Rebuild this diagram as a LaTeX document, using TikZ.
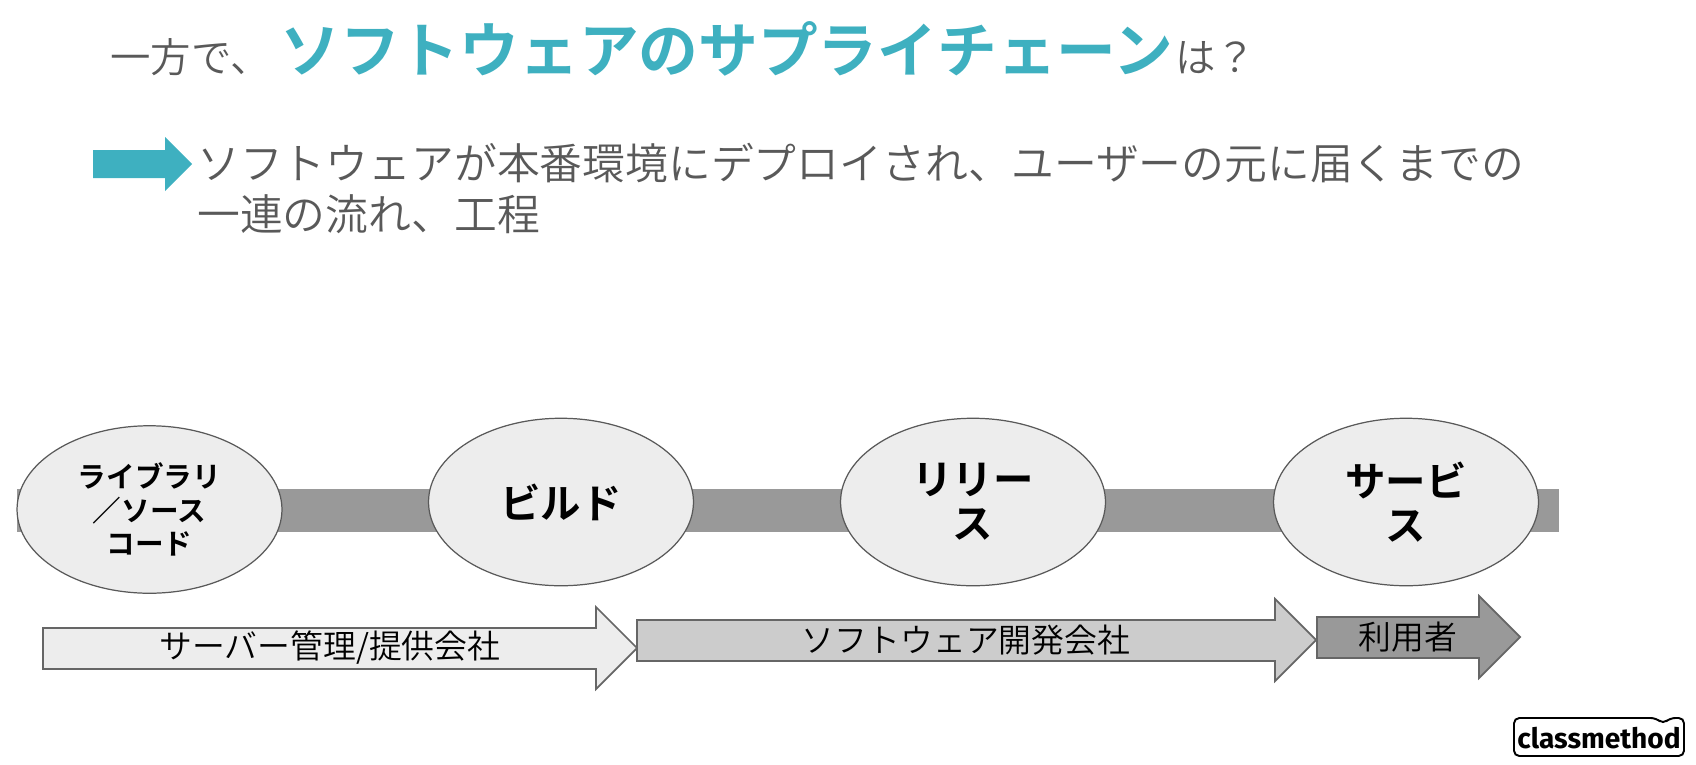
\documentclass[tikz,border=0pt]{standalone}
\usepackage{fontspec}
\usetikzlibrary{shapes.geometric}
\setmainfont{Noto Sans CJK JP DemiLight}[BoldFont=Noto Sans CJK JP Bold]
\newfontfamily\logofont{Fira Sans}
\definecolor{teal1}{HTML}{3EB0C0}
\definecolor{text1}{HTML}{595959}
\definecolor{line1}{HTML}{666666}
\tikzset{
  headtext/.style={anchor=base west,inner sep=0pt,text=text1,font=\fontsize{23}{23}\selectfont},
  bodytext/.style={anchor=base west,inner sep=0pt,text=text1,font=\fontsize{24.37}{24.37}\selectfont},
  stage/.style={ellipse,draw=text1,fill=black!7,line width=0.7pt,inner sep=0pt,
    minimum width=5.3cm,minimum height=3.35cm,align=center,font=\bfseries\fontsize{23}{25}\selectfont},
  actor/.style={draw=line1,line width=1pt},
  actortext/.style={inner sep=0pt,font=\fontsize{18.7}{18.7}\selectfont}
}
\begin{document}
\begin{tikzpicture}[x=0.02cm,y=-0.02cm]
\useasboundingbox (0,0) rectangle (1696,764);

% title
\node[headtext] (one) at (110,72) {一方で、};
\node[headtext,text=teal1,font=\bfseries\fontsize{34}{34}\selectfont] (two) at (280,72) {ソフトウェアのサプライチェーン};
\node[headtext] (three) at (1175,72) {は？};

% definition
\fill[teal1] (93,150) -- (165,150) -- (165,137) -- (192,164) -- (165,191) -- (165,178) -- (93,178) -- cycle;
\node[bodytext] (four) at (197,179) {ソフトウェアが本番環境にデプロイされ、ユーザーの元に届くまでの};
\node[bodytext] (five) at (197,230) {一連の流れ、工程};

% stages
\fill[black!40] (17,489) rectangle (1559,532);
\node[stage,font=\bfseries\fontsize{16.3}{19}\selectfont] (lib) at (149.5,509.5) {ライブラリ\\／ソース\\コード};
\node[stage] (build) at (561,502) {ビルド};
\node[stage] (rel) at (973,502) {リリー\\ス};
\node[stage] (serv) at (1406,502) {サービ\\ス};

% who
\draw[actor,fill=black!7] (43,628) -- (596,628) -- (596,607) -- (637,648) -- (596,689) -- (596,669) -- (43,669) -- cycle;
\node[actortext] (srv) at (330,648) {サーバー管理/提供会社};
\draw[actor,fill=black!20] (637,620) -- (1275,620) -- (1275,599) -- (1316,640) -- (1275,681) -- (1275,661) -- (637,661) -- cycle;
\node[actortext] (dev) at (966,640) {ソフトウェア開発会社};
\draw[actor,fill=black!40] (1317,617) -- (1479,617) -- (1479,596) -- (1520,637) -- (1479,678) -- (1479,658) -- (1317,658) -- cycle;
\node[actortext] (user) at (1408,637) {利用者};

% logo
\draw[line width=1.1pt,rounded corners=3pt] (1514,718) -- (1656,718) -- (1663,724) -- (1670,718) -- (1684,718) -- (1684,756) -- (1514,756) -- cycle;
\node[inner sep=0pt,font=\logofont\bfseries\fontsize{16}{16}\selectfont] (logo) at (1599,738) {classmethod};
\end{tikzpicture}
\end{document}
